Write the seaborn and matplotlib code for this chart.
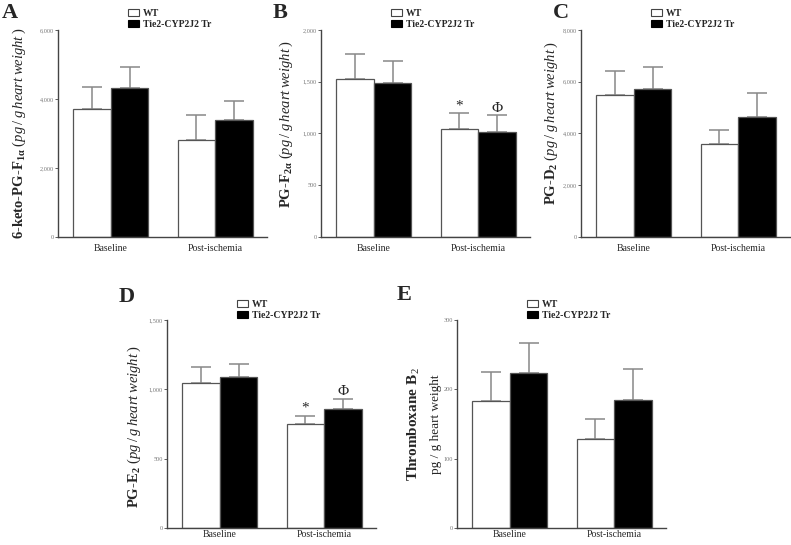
import numpy as np
import pandas as pd
import matplotlib
matplotlib.use('Agg')
import matplotlib.pyplot as plt
import seaborn as sns
from matplotlib.patches import Patch
from matplotlib.ticker import FuncFormatter

conditions = ['Baseline', 'Post-ischemia']
groups = ['WT', 'Tie2-CYP2J2 Tr']

# mean and upper error, order = [Baseline, Post-ischemia]
keto_wt = [3710, 2800]
keto_wt_err = [650, 735]
keto_tg = [4310, 3390]
keto_tg_err = [610, 550]

pgf_wt = [1524, 1040]
pgf_wt_err = [241, 155]
pgf_tg = [1485, 1011]
pgf_tg_err = [218, 165]

pgd_wt = [5490, 3580]
pgd_wt_err = [940, 540]
pgd_tg = [5720, 4640]
pgd_tg_err = [860, 915]

pge_wt = [1048, 750]
pge_wt_err = [116, 60]
pge_tg = [1089, 857]
pge_tg_err = [94, 75]

txb_wt = [183, 128]
txb_wt_err = [42, 29]
txb_tg = [224, 185]
txb_tg_err = [43, 45]

# y axis ranges
keto_ticks = [0, 2000, 4000, 6000]
pgf_ticks = [0, 500, 1000, 1500, 2000]
pgd_ticks = [0, 2000, 4000, 6000, 8000]
pge_ticks = [0, 500, 1000, 1500]
txb_ticks = [0, 100, 200, 300]

# significance marks on post-ischemia bars (WT, Tg)
post_marks = ['*', '\u03a6']

sns.set_style('ticks')
plt.rcParams['font.family'] = ['Liberation Serif', 'DejaVu Serif']
plt.rcParams['mathtext.fontset'] = 'custom'
plt.rcParams['mathtext.rm'] = 'Liberation Serif'
plt.rcParams['mathtext.it'] = 'Liberation Serif:italic'
plt.rcParams['mathtext.bf'] = 'Liberation Serif:bold'

palette = {'WT': 'white', 'Tie2-CYP2J2 Tr': 'black'}
unit = r'$\mathit{(pg\:/\:g\:heart\:weight\:)}$'


def draw_panel(ax, wt, wt_err, tg, tg_err, ticks, marks=None, xpad=5):
    df = pd.DataFrame({
        'condition': conditions * 2,
        'group': [groups[0]] * 2 + [groups[1]] * 2,
        'value': wt + tg,
    })
    sns.barplot(data=df, x='condition', y='value', hue='group',
                order=conditions, hue_order=groups, palette=palette,
                edgecolor='#555555', linewidth=0.9, width=0.72, gap=0,
                saturation=1, errorbar=None, legend=False, ax=ax)
    errs = [wt_err, tg_err]
    bar_conts = list(ax.containers)
    for k, cont in enumerate(bar_conts):
        xs = [b.get_x() + b.get_width() / 2 for b in cont]
        hs = [b.get_height() for b in cont]
        # only the upper half of the error bar is shown
        ax.errorbar(xs, hs, yerr=[[0, 0], errs[k]], fmt='none',
                    ecolor='#888888', elinewidth=1.1, capsize=7, capthick=1.1,
                    zorder=0)
        if marks is not None:
            ax.annotate(marks[k], (xs[1], hs[1] + errs[k][1]),
                        xytext=(0, 0.5), textcoords='offset points',
                        ha='center', va='bottom', fontsize=11)
    ax.set_xlim(-0.505, 1.495)
    ax.set_ylim(0, ticks[-1])
    ax.set_yticks(ticks)
    ax.yaxis.set_major_formatter(FuncFormatter(lambda v, p: f'{int(v):,}'))
    ax.set_xlabel('')
    sns.despine(ax=ax)
    for s in ['left', 'bottom']:
        ax.spines[s].set_color('#444444')
        ax.spines[s].set_linewidth(1.0)
    ax.tick_params(axis='x', length=0, labelsize=7, pad=xpad)
    ax.tick_params(axis='y', length=2, width=0.6, color='#444444',
                   labelsize=4.5, labelcolor='#777777', pad=1)
    handles = [Patch(facecolor='white', edgecolor='#444444', linewidth=0.8),
               Patch(facecolor='black', edgecolor='black', linewidth=0.8)]
    ax.legend(handles, groups, loc='upper left', bbox_to_anchor=(0.335, 1.10),
              frameon=False, borderaxespad=0, borderpad=0, handlelength=1.1,
              handleheight=0.75, handletextpad=0.4, labelspacing=0.2,
              prop={'family': 'Liberation Serif', 'weight': 'bold', 'size': 7})


fig = plt.figure(figsize=(7.91, 5.45), dpi=100)
w, h = 0.264, 0.38
axA = fig.add_axes([0.0733, 0.5651, w, h])
axB = fig.add_axes([0.4058, 0.5651, w, h])
axC = fig.add_axes([0.7345, 0.5651, w, h])
axD = fig.add_axes([0.2111, 0.032, w, h])
axE = fig.add_axes([0.5778, 0.032, w, h])

draw_panel(axA, keto_wt, keto_wt_err, keto_tg, keto_tg_err, keto_ticks)
draw_panel(axB, pgf_wt, pgf_wt_err, pgf_tg, pgf_tg_err, pgf_ticks, post_marks)
draw_panel(axC, pgd_wt, pgd_wt_err, pgd_tg, pgd_tg_err, pgd_ticks)
draw_panel(axD, pge_wt, pge_wt_err, pge_tg, pge_tg_err, pge_ticks, post_marks, xpad=2)
draw_panel(axE, txb_wt, txb_wt_err, txb_tg, txb_tg_err, txb_ticks, xpad=2)

lab_kw = dict(fontsize=10.5, fontweight='bold')
axA.set_ylabel(r'6-keto-PG-F$_{\mathbf{1\alpha}}$ ' + unit, **lab_kw)
axA.yaxis.set_label_coords(-0.143, 0.5)
axB.set_ylabel(r'PG-F$_{\mathbf{2\alpha}}$ ' + unit, **lab_kw)
axB.yaxis.set_label_coords(-0.124, 0.546)
axC.set_ylabel(r'PG-D$_{\mathbf{2}}$ ' + unit, **lab_kw)
axC.yaxis.set_label_coords(-0.10, 0.55)
axD.set_ylabel(r'PG-E$_{\mathbf{2}}$ ' + unit, **lab_kw)
axD.yaxis.set_label_coords(-0.114, 0.488)

# panel E has a two-line label: bold name + plain unit
axE.set_ylabel('pg / g heart weight', fontsize=9.5)
axE.yaxis.set_label_coords(-0.073, 0.5)
axE.text(-0.17, 0.5, r'Thromboxane B$_{\,2}$', transform=axE.transAxes,
         rotation=90, rotation_mode='anchor', ha='center', va='bottom',
         fontsize=11, fontweight='bold')

# panel letters
letter_kw = dict(fontsize=16, fontweight='bold', va='top', ha='left')
fig.text(2 / 791, 1 - 3 / 545, 'A', **letter_kw)
fig.text(273 / 791, 1 - 3 / 545, 'B', **letter_kw)
fig.text(553 / 791, 1 - 3 / 545, 'C', **letter_kw)
fig.text(119 / 791, 1 - 287 / 545, 'D', **letter_kw)
fig.text(397 / 791, 1 - 285 / 545, 'E', **letter_kw)

fig.savefig('out.png', dpi=100)
